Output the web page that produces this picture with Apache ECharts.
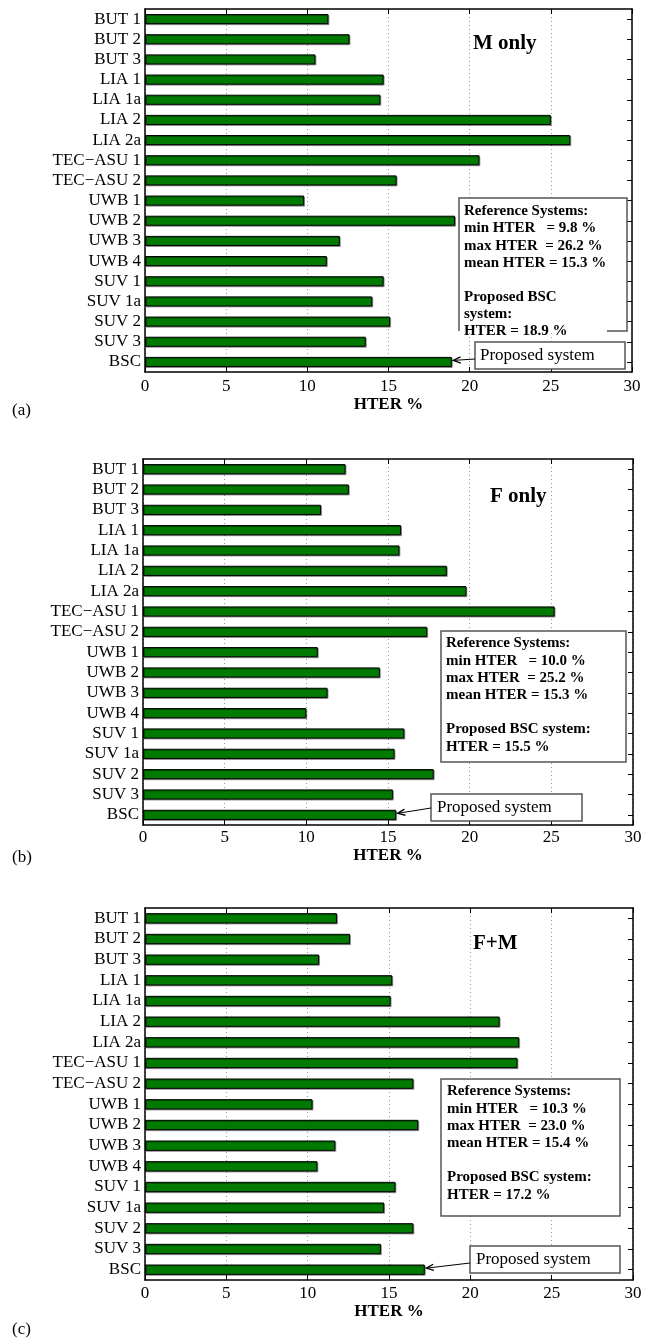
<!DOCTYPE html>
<html>
<head>
<meta charset="utf-8">
<script src="https://cdn.jsdelivr.net/npm/echarts@6/dist/echarts.min.js"></script>
<style>
html,body{margin:0;padding:0;background:#fff;}
#chart{width:651px;height:1338px;}
</style>
</head>
<body>
<div id="chart"></div>
<script>
// ---- data ----
const categories = ['BUT 1','BUT 2','BUT 3','LIA 1','LIA 1a','LIA 2','LIA 2a','TEC\u2212ASU 1','TEC\u2212ASU 2','UWB 1','UWB 2','UWB 3','UWB 4','SUV 1','SUV 1a','SUV 2','SUV 3','BSC'];
const hterMOnly = [11.3,12.6,10.5,14.7,14.5,25.0,26.2,20.6,15.5,9.8,19.1,12.0,11.2,14.7,14.0,15.1,13.6,18.9];
const hterFOnly = [12.4,12.6,10.9,15.8,15.7,18.6,19.8,25.2,17.4,10.7,14.5,11.3,10.0,16.0,15.4,17.8,15.3,15.5];
const hterFM    = [11.8,12.6,10.7,15.2,15.1,21.8,23.0,22.9,16.5,10.3,16.8,11.7,10.6,15.4,14.7,16.5,14.5,17.2];
const xMin = 0, xMax = 30, xStep = 5;
const xAxisTitle = 'HTER %';
const panelTags = ['(a)','(b)','(c)'];
const panelTitles = ['M only','F only','F+M'];
const infoLines = [
  ['Reference Systems:','min HTER   = 9.8 %','max HTER  = 26.2 %','mean HTER = 15.3 %','','Proposed BSC','system:','HTER = 18.9 %'],
  ['Reference Systems:','min HTER   = 10.0 %','max HTER  = 25.2 %','mean HTER = 15.3 %','','Proposed BSC system:','HTER = 15.5 %'],
  ['Reference Systems:','min HTER   = 10.3 %','max HTER  = 23.0 %','mean HTER = 15.4 %','','Proposed BSC system:','HTER = 17.2 %']
];
const pointerText = 'Proposed system';
const proposedCategory = 'BSC';

// ---- layout / style ----
const FONT = '"Liberation Serif","Times New Roman",serif';
const panels = [
  {values: hterMOnly, grid:{left:145, top:9, width:487, height:363}, labelMargin:6.5, nameGap:24.5,
   tag:{x:12,y:411}, title:{x:473,y:44},
   info:{x:464, y0:211.5, dy:17.1, box:[459,198,627,331], partial:true},
   ptr:{box:[475,342,150,27], tx:480, ty:356, from:[475,359]}},
  {values: hterFOnly, grid:{left:143, top:459, width:490, height:366}, labelMargin:4, nameGap:19.5,
   tag:{x:12,y:858}, title:{x:490,y:497},
   info:{x:446, y0:643.5, dy:17.2, box:[441,631,626,762], partial:false},
   ptr:{box:[431,794,151,27], tx:437, ty:808, from:[431,808]}},
  {values: hterFM, grid:{left:145, top:908, width:488, height:372}, labelMargin:5.5, nameGap:20.5,
   tag:{x:12,y:1330}, title:{x:473,y:944},
   info:{x:447, y0:1091.5, dy:17.2, box:[441,1079,620,1216], partial:false},
   ptr:{box:[470,1246,150,27], tx:476, ty:1260, from:[470,1263]}}
];

const grid = [], xAxis = [], yAxis = [], series = [];
panels.forEach((p, i) => {
  grid.push(Object.assign({containLabel:false}, p.grid));
});
panels.forEach((p, i) => {
  xAxis.push({
    type:'value', gridIndex:i, position:'bottom', min:xMin, max:xMax, interval:xStep,
    name: xAxisTitle, nameLocation:'middle', nameGap:p.nameGap,
    nameTextStyle:{fontFamily:FONT, fontSize:17, fontWeight:'bold', color:'#000'},
    axisLine:{show:true, onZero:false, lineStyle:{color:'#000', width:1.5}},
    axisTick:{show:true, inside:true, length:5, lineStyle:{color:'#000'}},
    axisLabel:{fontFamily:FONT, fontSize:17, color:'#000', margin:p.labelMargin},
    splitLine:{show:true, lineStyle:{color:'#999', type:[1,3], width:1}}
  });
});
panels.forEach((p, i) => {
  xAxis.push({
    type:'value', gridIndex:i, position:'top', min:xMin, max:xMax, interval:xStep,
    axisLine:{show:true, onZero:false, lineStyle:{color:'#000', width:1.5}},
    axisTick:{show:true, inside:true, length:5, lineStyle:{color:'#000'}},
    axisLabel:{show:false}, splitLine:{show:false}
  });
});
panels.forEach((p, i) => {
  yAxis.push({
    type:'category', gridIndex:i, position:'left', inverse:true, data:categories,
    axisLine:{show:true, onZero:false, lineStyle:{color:'#000', width:1.5}},
    axisTick:{show:false},
    axisLabel:{fontFamily:FONT, fontSize:17, color:'#000', margin:4, interval:0},
    splitLine:{show:false}
  });
});
panels.forEach((p, i) => {
  yAxis.push({
    type:'category', gridIndex:i, position:'right', inverse:true, data:categories,
    axisLine:{show:true, onZero:false, lineStyle:{color:'#000', width:1.5}},
    axisTick:{show:true, inside:true, length:5, alignWithLabel:true, interval:0, lineStyle:{color:'#000'}},
    axisLabel:{show:false}, splitLine:{show:false}
  });
});
panels.forEach((p, i) => {
  series.push({
    type:'bar', xAxisIndex:i, yAxisIndex:i, data:p.values, barWidth:'50%',
    itemStyle:{color:'#007a00', borderColor:'#000', borderWidth:1,
               shadowColor:'rgba(0,0,0,0.35)', shadowOffsetX:1, shadowOffsetY:1, shadowBlur:0},
    silent:true, animation:false
  });
});

const chart = echarts.init(document.getElementById('chart'), null, {renderer:'canvas'});
chart.setOption({animation:false, grid, xAxis, yAxis, series});

// ---- annotations ----
const graphic = [];
const catIdx = categories.indexOf(proposedCategory);
panels.forEach((p, i) => {
  graphic.push({type:'text', x:p.tag.x, y:p.tag.y, z:100,
    style:{text:panelTags[i], fontFamily:FONT, fontSize:17, fill:'#000', verticalAlign:'middle', align:'left'}});
  graphic.push({type:'text', x:p.title.x, y:p.title.y, z:100,
    style:{text:panelTitles[i], fontFamily:FONT, fontSize:21, fontWeight:'bold', fill:'#000', verticalAlign:'middle', align:'left'}});
  const b = p.info.box;
  graphic.push({type:'rect', z:90, shape:{x:b[0], y:b[1], width:b[2]-b[0], height:b[3]-b[1]},
    style:{fill:'#fff', stroke:p.info.partial ? null : '#555', lineWidth:1.5}});
  if (p.info.partial) {
    graphic.push({type:'polyline', z:91, shape:{points:[[b[2]-20,b[3]],[b[2],b[3]],[b[2],b[1]],[b[0],b[1]],[b[0],b[3]]]},
      style:{stroke:'#555', lineWidth:1.5, fill:null}});
  }
  infoLines[i].forEach((t, k) => {
    if (!t) return;
    graphic.push({type:'text', z:100, x:p.info.x, y:p.info.y0 + k*p.info.dy,
      style:{text:t, fontFamily:FONT, fontSize:15, fontWeight:'bold', fill:'#000', verticalAlign:'middle', align:'left'}});
  });
  const pb = p.ptr.box;
  graphic.push({type:'rect', z:90, shape:{x:pb[0], y:pb[1], width:pb[2], height:pb[3]},
    style:{fill:'#fff', stroke:'#555', lineWidth:1.5}});
  graphic.push({type:'text', z:100, x:p.ptr.tx, y:p.ptr.ty,
    style:{text:pointerText, fontFamily:FONT, fontSize:17, fill:'#000', verticalAlign:'middle', align:'left'}});
  const tip = chart.convertToPixel({seriesIndex:i}, [p.values[catIdx], catIdx]);
  const tx = tip[0] + 1.5, ty = tip[1] - 1.5;
  const fx = p.ptr.from[0], fy = p.ptr.from[1];
  const ang = Math.atan2(fy - ty, fx - tx);
  const L = 8, A = 0.4;
  graphic.push({type:'line', z:95, shape:{x1:fx, y1:fy, x2:tx, y2:ty}, style:{stroke:'#000', lineWidth:1}});
  graphic.push({type:'polyline', z:95, shape:{points:[
      [tx + L*Math.cos(ang+A), ty + L*Math.sin(ang+A)], [tx, ty], [tx + L*Math.cos(ang-A), ty + L*Math.sin(ang-A)]]},
    style:{stroke:'#000', lineWidth:1.3, fill:null}});
});
chart.setOption({graphic});
</script>
</body>
</html>
